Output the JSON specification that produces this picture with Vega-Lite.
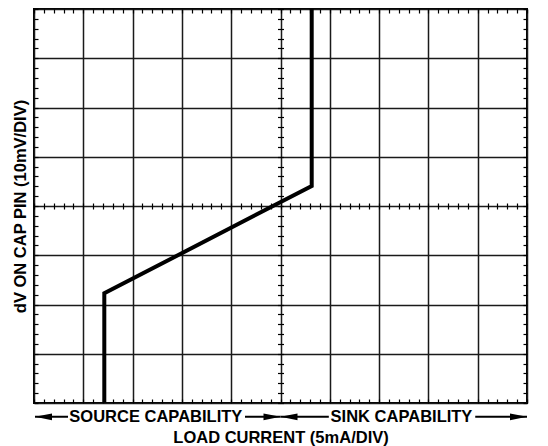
{
  "$schema": "https://vega.github.io/schema/vega-lite/v6.json",
  "width": 493,
  "height": 394,
  "autosize": "none",
  "padding": {"left": 34, "top": 9, "right": 21, "bottom": 43},
  "background": "white",
  "config": {
    "view": {"stroke": "black", "strokeWidth": 2},
    "font": "Liberation Sans",
    "axis": {"labels": false, "domain": false, "tickColor": "black", "tickWidth": 1.2, "grid": false}
  },
  "datasets": {
    "curve": [
      {"i": 0, "x": -3.574, "y": -4},
      {"i": 1, "x": -3.574, "y": -1.773},
      {"i": 2, "x": 0.633, "y": 0.406},
      {"i": 3, "x": 0.633, "y": 4}
    ],
    "arrows": [
      {"x": -4.31, "x2": -4.98, "y": -4.28, "dir": "left"},
      {"x": -0.72, "x2": 0.0, "y": -4.28, "dir": "right"},
      {"x": 0.98, "x2": 0.0, "y": -4.28, "dir": "left"},
      {"x": 3.95, "x2": 5.0, "y": -4.28, "dir": "right"}
    ],
    "labels": [
      {"label": "SOURCE CAPABILITY", "x": -2.529, "y": -4.28},
      {"label": "SINK CAPABILITY", "x": 2.454, "y": -4.28}
    ]
  },
  "layer": [
    {
      "data": {"name": "curve"},
      "mark": {"type": "line", "color": "black", "opacity": 0},
      "encoding": {
        "x": {"field": "x", "type": "quantitative",
          "scale": {"domain": [-5, 5], "nice": false, "zero": false},
          "axis": {"orient": "bottom",
            "values": [-5,-4.8,-4.6,-4.4,-4.2,-4,-3.8,-3.6,-3.4,-3.2,-3,-2.8,-2.6,-2.4,-2.2,-2,-1.8,-1.6,-1.4,-1.2,-1,-0.8,-0.6,-0.4,-0.2,0,0.2,0.4,0.6,0.8,1,1.2,1.4,1.6,1.8,2,2.2,2.4,2.6,2.8,3,3.2,3.4,3.6,3.8,4,4.2,4.4,4.6,4.8,5],
            "grid": true, "gridColor": "#1a1a1a", "gridWidth": 1.5,
            "gridOpacity": {"condition": {"test": "abs(datum.value - round(datum.value)) < 0.01", "value": 1}, "value": 0},
            "tickSize": -4,
            "title": "LOAD CURRENT (5mA/DIV)", "titleFontSize": 16.5, "titleFontWeight": "bold", "titleFont": "Liberation Sans", "titleColor": "black", "titlePadding": 26}},
        "y": {"field": "y", "type": "quantitative",
          "scale": {"domain": [-4, 4], "nice": false, "zero": false},
          "axis": {"orient": "left",
            "values": [-4,-3.8,-3.6,-3.4,-3.2,-3,-2.8,-2.6,-2.4,-2.2,-2,-1.8,-1.6,-1.4,-1.2,-1,-0.8,-0.6,-0.4,-0.2,0,0.2,0.4,0.6,0.8,1,1.2,1.4,1.6,1.8,2,2.2,2.4,2.6,2.8,3,3.2,3.4,3.6,3.8,4],
            "grid": true, "gridColor": "#1a1a1a", "gridWidth": 1.5,
            "gridOpacity": {"condition": {"test": "abs(datum.value - round(datum.value)) < 0.01", "value": 1}, "value": 0},
            "tickSize": -4,
            "title": "dV ON CAP PIN (10mV/DIV)", "titleFontSize": 16.5, "titleFontWeight": "bold", "titleFont": "Liberation Sans", "titleColor": "black", "titlePadding": 5}},
        "order": {"field": "i"}
      }
    },
    {
      "data": {"name": "curve"},
      "mark": {"type": "line", "color": "black", "opacity": 0},
      "encoding": {
        "x": {"field": "x", "type": "quantitative",
          "axis": {"orient": "top",
            "values": [-5,-4.8,-4.6,-4.4,-4.2,-4,-3.8,-3.6,-3.4,-3.2,-3,-2.8,-2.6,-2.4,-2.2,-2,-1.8,-1.6,-1.4,-1.2,-1,-0.8,-0.6,-0.4,-0.2,0,0.2,0.4,0.6,0.8,1,1.2,1.4,1.6,1.8,2,2.2,2.4,2.6,2.8,3,3.2,3.4,3.6,3.8,4,4.2,4.4,4.6,4.8,5],
            "tickSize": -4, "title": null}},
        "y": {"field": "y", "type": "quantitative",
          "axis": {"orient": "right",
            "values": [-4,-3.8,-3.6,-3.4,-3.2,-3,-2.8,-2.6,-2.4,-2.2,-2,-1.8,-1.6,-1.4,-1.2,-1,-0.8,-0.6,-0.4,-0.2,0,0.2,0.4,0.6,0.8,1,1.2,1.4,1.6,1.8,2,2.2,2.4,2.6,2.8,3,3.2,3.4,3.6,3.8,4],
            "tickSize": -4, "title": null}},
        "order": {"field": "i"}
      }
    },
    {
      "data": {"name": "curve"},
      "mark": {"type": "line", "color": "black", "opacity": 0},
      "encoding": {
        "x": {"field": "x", "type": "quantitative",
          "axis": {"orient": "bottom", "offset": {"expr": "-height/2 - 3"},
            "values": [-5,-4.8,-4.6,-4.4,-4.2,-4,-3.8,-3.6,-3.4,-3.2,-3,-2.8,-2.6,-2.4,-2.2,-2,-1.8,-1.6,-1.4,-1.2,-1,-0.8,-0.6,-0.4,-0.2,0,0.2,0.4,0.6,0.8,1,1.2,1.4,1.6,1.8,2,2.2,2.4,2.6,2.8,3,3.2,3.4,3.6,3.8,4,4.2,4.4,4.6,4.8,5],
            "tickSize": 6, "title": null}},
        "y": {"field": "y", "type": "quantitative",
          "axis": {"orient": "left", "offset": {"expr": "-width/2 - 3"},
            "values": [-4,-3.8,-3.6,-3.4,-3.2,-3,-2.8,-2.6,-2.4,-2.2,-2,-1.8,-1.6,-1.4,-1.2,-1,-0.8,-0.6,-0.4,-0.2,0,0.2,0.4,0.6,0.8,1,1.2,1.4,1.6,1.8,2,2.2,2.4,2.6,2.8,3,3.2,3.4,3.6,3.8,4],
            "tickSize": 6, "title": null}},
        "order": {"field": "i"}
      }
    },
    {
      "data": {"name": "curve"},
      "mark": {"type": "line", "color": "black", "strokeWidth": 4, "strokeJoin": "miter"},
      "encoding": {
        "x": {"field": "x", "type": "quantitative", "axis": null},
        "y": {"field": "y", "type": "quantitative", "axis": null},
        "order": {"field": "i"}
      }
    },
    {
      "data": {"name": "arrows"},
      "mark": {"type": "rule", "color": "black", "strokeWidth": 2},
      "encoding": {
        "x": {"field": "x", "type": "quantitative", "axis": null},
        "x2": {"field": "x2"},
        "y": {"field": "y", "type": "quantitative", "axis": null}
      }
    },
    {
      "data": {"name": "arrows"},
      "mark": {"type": "point", "filled": true, "color": "black", "size": 289, "opacity": 1, "strokeWidth": 0},
      "encoding": {
        "x": {"field": "x2", "type": "quantitative", "axis": null},
        "y": {"field": "y", "type": "quantitative", "axis": null},
        "shape": {"field": "dir", "type": "nominal", "legend": null,
          "scale": {"domain": ["left", "right"], "range": ["M0,0L2,-0.4L2,0.4Z", "M0,0L-2,-0.4L-2,0.4Z"]}}
      }
    },
    {
      "data": {"name": "labels"},
      "mark": {"type": "text", "font": "Liberation Sans", "fontSize": 16.5, "fontWeight": "bold", "color": "black", "baseline": "middle", "align": "center"},
      "encoding": {
        "x": {"field": "x", "type": "quantitative", "axis": null},
        "y": {"field": "y", "type": "quantitative", "axis": null},
        "text": {"field": "label"}
      }
    }
  ],
  "resolve": {"axis": {"x": "independent", "y": "independent"}}
}
